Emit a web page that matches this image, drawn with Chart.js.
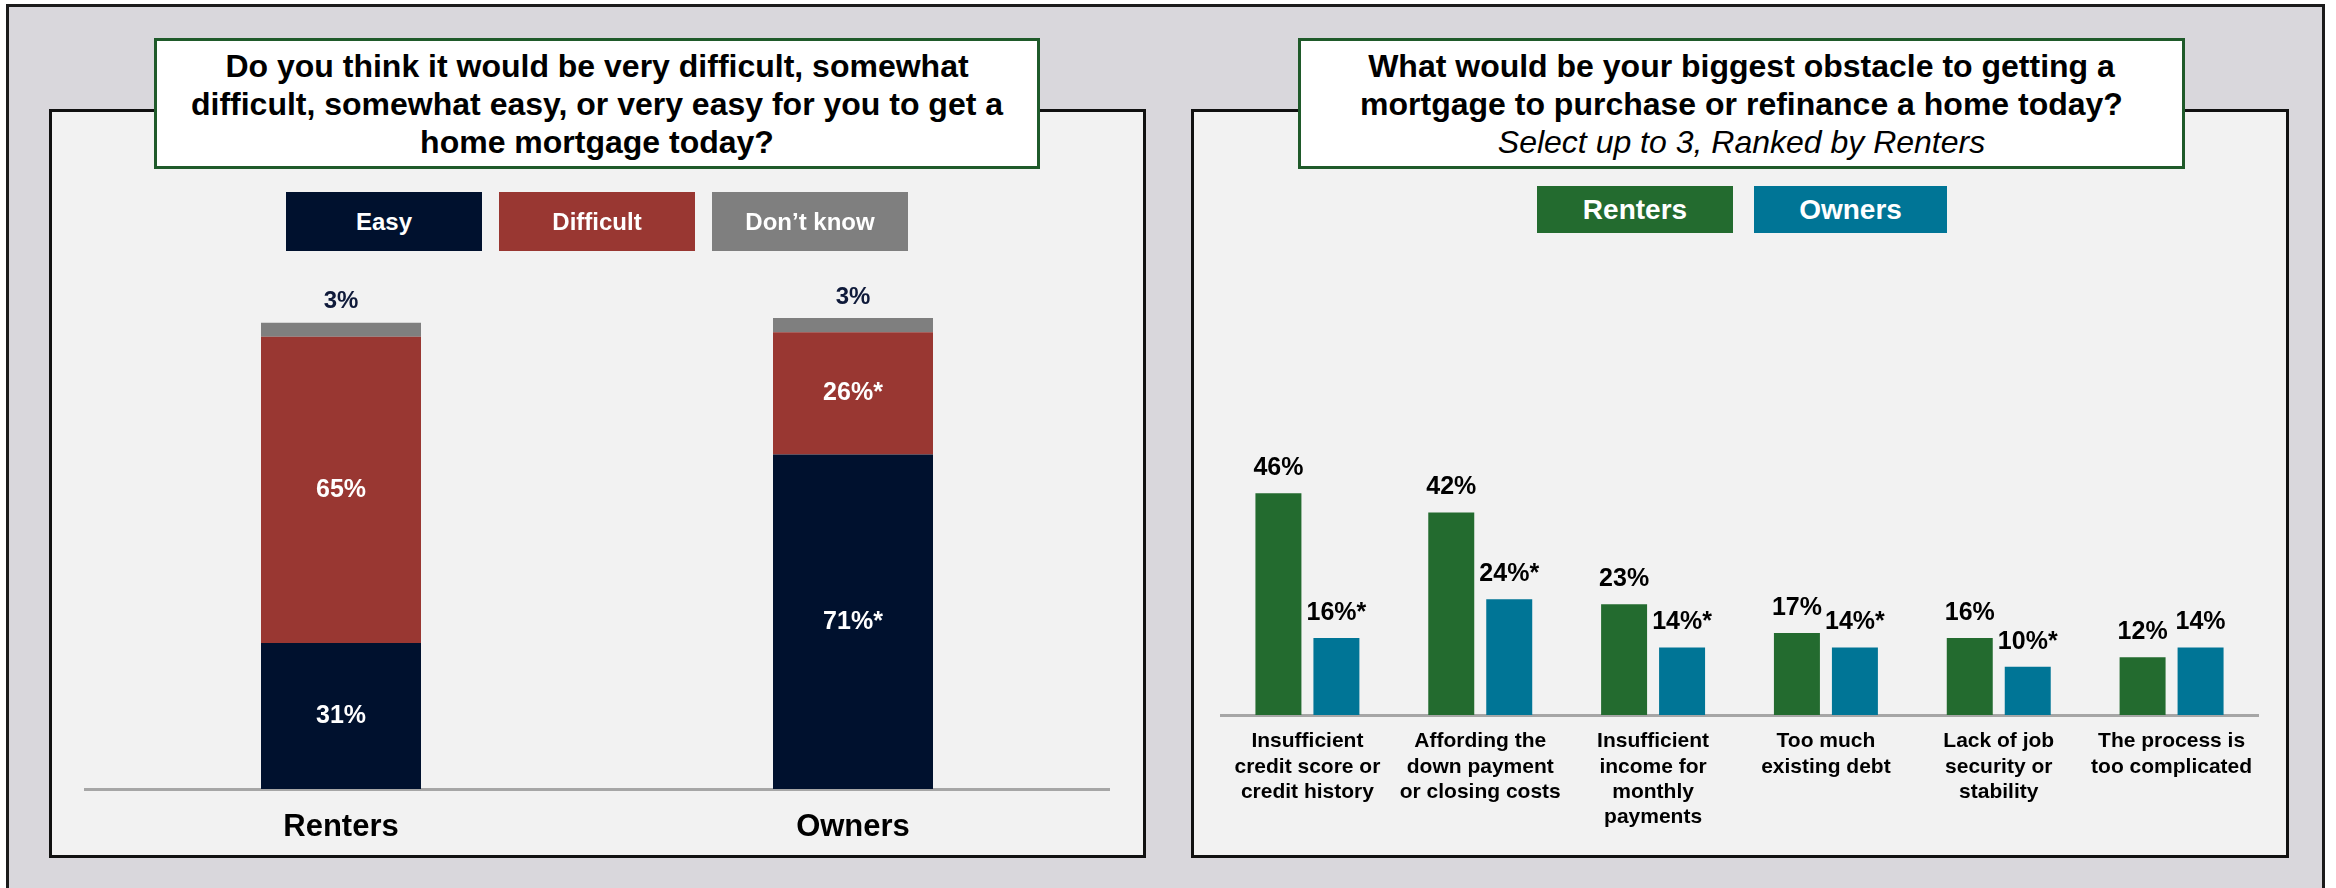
<!DOCTYPE html>
<html>
<head>
<meta charset="utf-8">
<script src="https://cdn.jsdelivr.net/npm/chart.js@4.4.1/dist/chart.umd.min.js"></script>
<style>
  html, body { margin: 0; padding: 0; background: #ffffff; }
  body { width: 2336px; height: 888px; position: relative; overflow: hidden; font-family: "Liberation Sans", Arial, sans-serif; }
  .frame { position: absolute; left: 6px; top: 4px; width: 2313px; height: 900px; background: #d9d7dc; border: 3px solid #1b1b1b; }
  .panel { position: absolute; background: #f2f2f2; border: 3px solid #111111; box-sizing: border-box; }
  .title { position: absolute; background: #ffffff; border: 3px solid #1f5a2a; box-sizing: border-box;
           display: flex; align-items: center; justify-content: center; text-align: center;
           font-weight: bold; font-size: 32px; line-height: 38px; color: #000000; }
  .title i { font-weight: normal; }
  .key { position: absolute; color: #ffffff; font-weight: bold; display: flex; align-items: center; justify-content: center; }
  .plot { position: absolute; }
</style>
</head>
<body>
<div class="frame"></div>

<div class="panel" style="left:49px; top:109px; width:1097px; height:749px;"></div>
<div class="panel" style="left:1191px; top:109px; width:1098px; height:749px;"></div>

<div class="plot" style="left:49px; top:109px; width:1096px; height:748px;"><canvas id="mortgageEaseChart"></canvas></div>
<div class="plot" style="left:1191px; top:109px; width:1097px; height:748px;"><canvas id="obstacleChart"></canvas></div>

<div class="title" style="left:154px; top:38px; width:886px; height:131px;">
  <div>Do you think it would be very difficult, somewhat<br>difficult, somewhat easy, or very easy for you to get a<br>home mortgage today?</div>
</div>
<div class="title" style="left:1298px; top:38px; width:887px; height:131px;">
  <div>What would be your biggest obstacle to getting a<br>mortgage to purchase or refinance a home today?<br><i>Select up to 3, Ranked by Renters</i></div>
</div>

<div class="key" style="left:286px; top:192px; width:196px; height:59px; background:#00112e; font-size:24px;">Easy</div>
<div class="key" style="left:499px; top:192px; width:196px; height:59px; background:#993732; font-size:24px;">Difficult</div>
<div class="key" style="left:712px; top:192px; width:196px; height:59px; background:#7f7f7f; font-size:24px;">Don’t know</div>

<div class="key" style="left:1537px; top:186px; width:196px; height:47px; background:#236b2f; font-size:28px;">Renters</div>
<div class="key" style="left:1754px; top:186px; width:193px; height:47px; background:#007596; font-size:28px;">Owners</div>

<script>
// left chart: how hard is it to get a mortgage
var easeLabels = ["Renters", "Owners"];
var easyValues = [31, 71];
var difficultValues = [65, 26];
var dontKnowValues = [3, 3];
var easyMarks = ["", "*"];
var difficultMarks = ["", "*"];

// right chart: biggest obstacle
var obstacleLabels = [
  ["Insufficient", "credit score or", "credit history"],
  ["Affording the", "down payment", "or closing costs"],
  ["Insufficient", "income for", "monthly", "payments"],
  ["Too much", "existing debt"],
  ["Lack of job", "security or", "stability"],
  ["The process is", "too complicated"]
];
var renterValues = [46, 42, 23, 17, 16, 12];
var ownerValues = [16, 24, 14, 14, 10, 14];
var renterMarks = ["", "", "", "", "", ""];
var ownerMarks = ["*", "*", "*", "*", "*", ""];

var FONT = "'Liberation Sans', Arial, sans-serif";

// writes the % value on each bar, inside or above depending on dataset.labelAt
var valueLabels = {
  id: 'valueLabels',
  afterDatasetsDraw: function(chart) {
    var ctx = chart.ctx;
    ctx.save();
    ctx.textAlign = 'center';
    ctx.textBaseline = 'middle';
    chart.data.datasets.forEach(function(ds, i) {
      var meta = chart.getDatasetMeta(i);
      meta.data.forEach(function(bar, j) {
        var text = ds.data[j] + '%' + (ds.marks ? ds.marks[j] : '');
        ctx.font = 'bold ' + ds.labelSize + 'px ' + FONT;
        ctx.fillStyle = ds.labelColor;
        var y;
        if (ds.labelAt === 'inside') {
          y = (bar.y + bar.base) / 2;
        } else {
          y = bar.y - ds.labelGap;
        }
        ctx.fillText(text, bar.x, y);
      });
    });
    ctx.restore();
  }
};

window.onload = function() {

  // 難易度（積み上げ）
  var ctx = document.getElementById("mortgageEaseChart").getContext("2d");
  new Chart(ctx, {
    type: 'bar',
    data: {
      labels: easeLabels,
      datasets: [
        { label: "Easy", data: easyValues, marks: easyMarks, backgroundColor: "#00112e",
          labelAt: 'inside', labelColor: "#ffffff", labelSize: 25 },
        { label: "Difficult", data: difficultValues, marks: difficultMarks, backgroundColor: "#993732",
          labelAt: 'inside', labelColor: "#ffffff", labelSize: 25 },
        { label: "Don't know", data: dontKnowValues, backgroundColor: "#7f7f7f",
          labelAt: 'above', labelColor: "#0f1a3a", labelSize: 24, labelGap: 21 }
      ]
    },
    options: {
      responsive: true,
      maintainAspectRatio: false,
      animation: false,
      layout: { padding: { top: 209, left: 36, right: 36, bottom: 0 } },
      datasets: { bar: { categoryPercentage: 1, barPercentage: 0.3125 } },
      plugins: { legend: { display: false }, tooltip: { enabled: false } },
      scales: {
        x: {
          stacked: true,
          grid: { display: false, drawTicks: false },
          border: { display: true, color: "#a6a6a6", width: 3 },
          ticks: { color: "#000000", padding: 20, font: { family: FONT, size: 31, weight: 'bold' } },
          afterFit: function(scale) { scale.height = 68; }
        },
        y: { stacked: true, display: false, min: 0, max: 100 }
      }
    },
    plugins: [valueLabels]
  });

  // 障害（グループ棒）
  var ctx2 = document.getElementById("obstacleChart").getContext("2d");
  new Chart(ctx2, {
    type: 'bar',
    data: {
      labels: obstacleLabels,
      datasets: [
        { label: "Renters", data: renterValues, marks: renterMarks, backgroundColor: "#236b2f",
          labelAt: 'above', labelColor: "#000000", labelSize: 25, labelGap: 25 },
        { label: "Owners", data: ownerValues, marks: ownerMarks, backgroundColor: "#007596",
          labelAt: 'above', labelColor: "#000000", labelSize: 25, labelGap: 25 }
      ]
    },
    options: {
      responsive: true,
      maintainAspectRatio: false,
      animation: false,
      layout: { padding: { top: 124, left: 30, right: 30, bottom: 0 } },
      datasets: { bar: { categoryPercentage: 0.671, barPercentage: 0.793 } },
      plugins: { legend: { display: false }, tooltip: { enabled: false } },
      scales: {
        x: {
          grid: { display: false, drawTicks: false },
          border: { display: true, color: "#a6a6a6", width: 3 },
          ticks: { color: "#000000", padding: 14, maxRotation: 0, autoSkip: false,
                   font: { family: FONT, size: 21, weight: 'bold' } },
          afterFit: function(scale) { scale.height = 142; }
        },
        y: { display: false, min: 0, max: 100 }
      }
    },
    plugins: [valueLabels]
  });

};
</script>
</body>
</html>
